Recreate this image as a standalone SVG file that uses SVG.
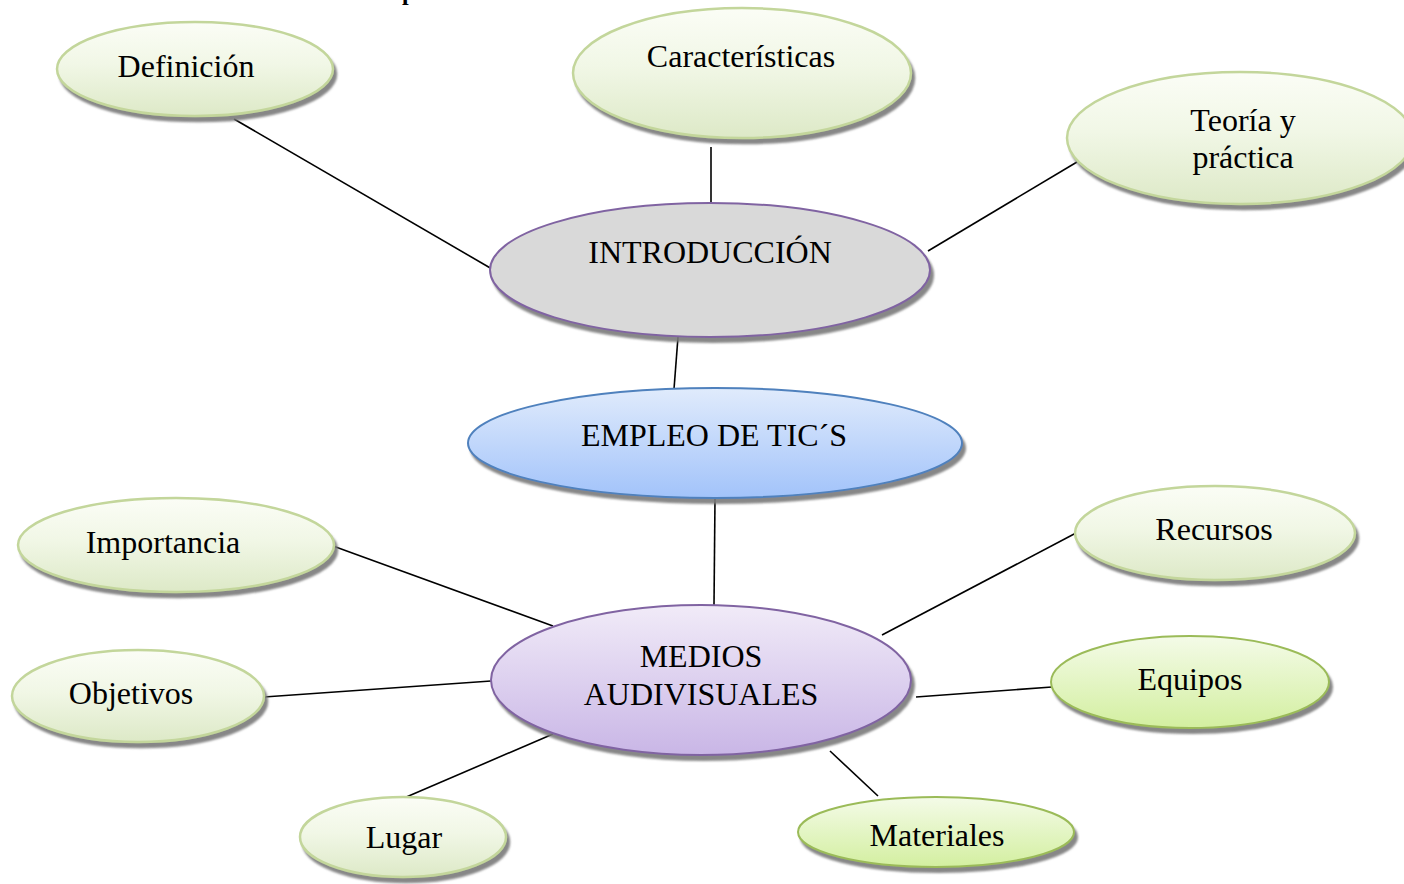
<svg xmlns="http://www.w3.org/2000/svg" width="1404" height="884" viewBox="0 0 1404 884">
<defs>
<linearGradient id="gPale" x1="0" y1="0" x2="0" y2="1">
<stop offset="0" stop-color="#fbfdf6"/>
<stop offset="0.45" stop-color="#f1f7e6"/>
<stop offset="1" stop-color="#dde9c7"/>
</linearGradient>
<linearGradient id="gBright" x1="0" y1="0" x2="0" y2="1">
<stop offset="0" stop-color="#f4fbe8"/>
<stop offset="1" stop-color="#d3efa0"/>
</linearGradient>
<linearGradient id="gBlue" x1="0" y1="0" x2="0" y2="1">
<stop offset="0" stop-color="#e0ebfc"/>
<stop offset="1" stop-color="#a2c3fa"/>
</linearGradient>
<linearGradient id="gPurple" x1="0" y1="0" x2="0" y2="1">
<stop offset="0" stop-color="#f1ebf8"/>
<stop offset="1" stop-color="#c9b6e6"/>
</linearGradient>
<filter id="sh" x="-10%" y="-10%" width="125%" height="130%">
<feDropShadow dx="3" dy="5" stdDeviation="0.8" flood-color="#7a7a7a" flood-opacity="0.9"/>
</filter>
</defs>
<style>
text{font-family:"Liberation Serif","Times New Roman",serif;font-size:32px;fill:#000;text-anchor:middle}
.pale{fill:url(#gPale);stroke:#c3d69b;stroke-width:2.5;filter:url(#sh)}
.bright{fill:url(#gBright);stroke:#9bbb59;stroke-width:2;filter:url(#sh)}
.grey{fill:#d9d9d9;stroke:#8064a2;stroke-width:2;filter:url(#sh)}
.blue{fill:url(#gBlue);stroke:#4f81bd;stroke-width:2;filter:url(#sh)}
.purple{fill:url(#gPurple);stroke:#8064a2;stroke-width:2;filter:url(#sh)}
.conn line{stroke:#000;stroke-width:1.6}
</style>
<rect width="1404" height="884" fill="#fff"/>
<text x="402" y="0" style="font-weight:bold;font-size:24px;text-anchor:start">p</text>
<g class="conn" id="connectors">
<line x1="234" y1="119" x2="492" y2="269"/>
<line x1="711" y1="147" x2="711" y2="203"/>
<line x1="1077" y1="162" x2="928" y2="251"/>
<line x1="678" y1="337" x2="674" y2="389"/>
<line x1="715" y1="499" x2="714" y2="605"/>
<line x1="333" y1="546" x2="553" y2="626"/>
<line x1="264" y1="697" x2="491" y2="681"/>
<line x1="404" y1="798" x2="553" y2="734"/>
<line x1="1076" y1="533" x2="882" y2="635"/>
<line x1="916" y1="697" x2="1052" y2="687"/>
<line x1="830" y1="751" x2="878" y2="796"/>
</g>
<g id="definicion"><ellipse class="pale" cx="195" cy="69" rx="138" ry="47"/><text x="186" y="77">Definición</text></g>
<g id="caracteristicas"><ellipse class="pale" cx="742" cy="73" rx="169" ry="65"/><text x="741" y="67">Características</text></g>
<g id="teoria"><ellipse class="pale" cx="1240" cy="138" rx="173" ry="66"/><text x="1243" y="131">Teoría y</text><text x="1243" y="168">práctica</text></g>
<g id="introduccion"><ellipse class="grey" cx="710" cy="270" rx="220" ry="67"/><text x="710" y="263">INTRODUCCIÓN</text></g>
<g id="empleo"><ellipse class="blue" cx="715" cy="443" rx="247" ry="55"/><text x="714" y="446">EMPLEO DE TIC´S</text></g>
<g id="medios"><ellipse class="purple" cx="701" cy="680" rx="210" ry="75"/><text x="701" y="667">MEDIOS</text><text x="701" y="705">AUDIVISUALES</text></g>
<g id="importancia"><ellipse class="pale" cx="176" cy="545" rx="158" ry="47"/><text x="163" y="553">Importancia</text></g>
<g id="objetivos"><ellipse class="pale" cx="138" cy="696" rx="126" ry="46"/><text x="131" y="704">Objetivos</text></g>
<g id="lugar"><ellipse class="pale" cx="403" cy="837" rx="103" ry="40"/><text x="404" y="848">Lugar</text></g>
<g id="recursos"><ellipse class="pale" cx="1215" cy="533" rx="140" ry="47"/><text x="1214" y="540">Recursos</text></g>
<g id="equipos"><ellipse class="bright" cx="1190" cy="682" rx="139" ry="46"/><text x="1190" y="690">Equipos</text></g>
<g id="materiales"><ellipse class="bright" cx="936" cy="832" rx="138" ry="35"/><text x="937" y="846">Materiales</text></g>
</svg>
